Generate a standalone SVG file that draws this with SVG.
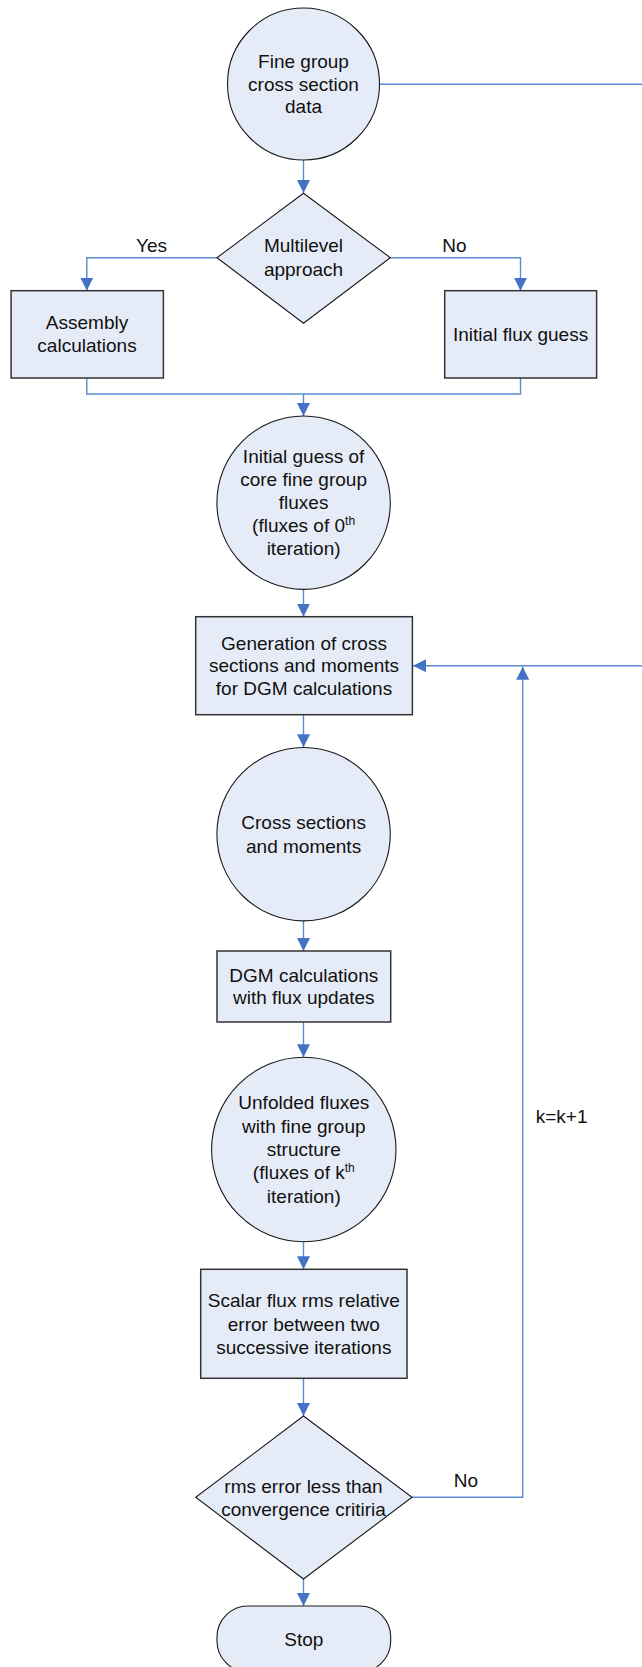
<svg xmlns="http://www.w3.org/2000/svg" width="642" height="1667" viewBox="0 0 642 1667">
<style>
.shape{fill:#E6ECF7;stroke:#1a1a1a;stroke-width:1.1}
.box{fill:#E6ECF7;stroke:#333333;stroke-width:1.5}
.conn{fill:none;stroke:#5A8AD0;stroke-width:1.4}
text{font-family:"Liberation Sans",Arial,sans-serif;font-size:19px;fill:#111;text-anchor:middle}
.sup{font-size:12px}
</style>
<defs>
<marker id="arr" markerUnits="userSpaceOnUse" markerWidth="13" markerHeight="13" viewBox="0 0 13 13" refX="13" refY="6.5" orient="auto">
<path d="M0,0 L13,6.5 L0,13 z" fill="#4472C4"/>
</marker>
</defs>
<g id="connectors">
<path class="conn" d="M303.5,160 V193" marker-end="url(#arr)"/>
<path class="conn" d="M379.5,84.3 H642"/>
<path class="conn" d="M217,257.7 H86.8 V290.7" marker-end="url(#arr)"/>
<path class="conn" d="M390.3,257.7 H520.5 V290.7" marker-end="url(#arr)"/>
<path class="conn" d="M86.8,378 V394 H520.5 V378"/>
<path class="conn" d="M303.5,394 V416" marker-end="url(#arr)"/>
<path class="conn" d="M303.5,589.3 V616.7" marker-end="url(#arr)"/>
<path class="conn" d="M642,665.7 H413" marker-end="url(#arr)"/>
<path class="conn" d="M303.5,714.7 V747.3" marker-end="url(#arr)"/>
<path class="conn" d="M303.5,921 V951" marker-end="url(#arr)"/>
<path class="conn" d="M303.5,1022 V1057.3" marker-end="url(#arr)"/>
<path class="conn" d="M303.5,1241.7 V1269.3" marker-end="url(#arr)"/>
<path class="conn" d="M303.5,1378.3 V1416" marker-end="url(#arr)"/>
<path class="conn" d="M412,1497.3 H522.7 V666.7" marker-end="url(#arr)"/>
<path class="conn" d="M303.5,1579 V1606" marker-end="url(#arr)"/>
<text x="151.5" y="251.7">Yes</text>
<text x="454.5" y="251.7">No</text>
<text x="561.6" y="1123.3">k=k+1</text>
<text x="466" y="1486.7">No</text>
</g>
<g id="fine-group">
<circle class="shape" cx="303.5" cy="84" r="76"/>
<text x="303.5" y="68.3">Fine group</text>
<text x="303.5" y="90.8">cross section</text>
<text x="303.5" y="113.3">data</text>
</g>
<g id="multilevel">
<path class="shape" d="M303.5,193.3 L390.3,257.7 L303.5,323.3 L217,257.7 Z"/>
<text x="303.5" y="252.3">Multilevel</text>
<text x="303.5" y="276">approach</text>
</g>
<g id="assembly">
<rect class="box" x="11.1" y="290.7" width="152.3" height="87.3"/>
<text x="87" y="329.3">Assembly</text>
<text x="87" y="352">calculations</text>
</g>
<g id="initial-flux">
<rect class="box" x="444.7" y="290.7" width="151.9" height="87.3"/>
<text x="520.6" y="341">Initial flux guess</text>
</g>
<g id="initial-guess">
<circle class="shape" cx="303.6" cy="502.7" r="86.7"/>
<text x="303.6" y="462.7">Initial guess of</text>
<text x="303.6" y="486">core fine group</text>
<text x="303.6" y="509">fluxes</text>
<text x="303.6" y="532.3">(fluxes of 0<tspan class="sup" dy="-7">th</tspan></text>
<text x="303.6" y="555">iteration)</text>
</g>
<g id="generation">
<rect class="box" x="195.7" y="616.7" width="216.7" height="98"/>
<text x="304" y="650">Generation of cross</text>
<text x="304" y="672.3">sections and moments</text>
<text x="304" y="695">for DGM calculations</text>
</g>
<g id="cross-sections">
<circle class="shape" cx="303.6" cy="834.2" r="86.7"/>
<text x="303.6" y="829.3">Cross sections</text>
<text x="303.6" y="852.7">and moments</text>
</g>
<g id="dgm">
<rect class="box" x="217" y="951" width="173.7" height="71"/>
<text x="303.8" y="981.7">DGM calculations</text>
<text x="303.8" y="1004.3">with flux updates</text>
</g>
<g id="unfolded">
<circle class="shape" cx="303.8" cy="1149.5" r="92.2"/>
<text x="303.8" y="1109.3">Unfolded fluxes</text>
<text x="303.8" y="1132.7">with fine group</text>
<text x="303.8" y="1156">structure</text>
<text x="303.8" y="1179.3">(fluxes of k<tspan class="sup" dy="-7">th</tspan></text>
<text x="303.8" y="1202.7">iteration)</text>
</g>
<g id="scalar">
<rect class="box" x="200.7" y="1269.3" width="206.3" height="109"/>
<text x="303.8" y="1306.7">Scalar flux rms relative</text>
<text x="303.8" y="1330.5">error between two</text>
<text x="303.8" y="1354">successive iterations</text>
</g>
<g id="convergence">
<path class="shape" d="M303.5,1416 L412,1497.3 L303.5,1579 L195.7,1497.3 Z"/>
<text x="303.5" y="1492.7">rms error less than</text>
<text x="303.5" y="1515.7">convergence critiria</text>
</g>
<g id="stop">
<rect class="shape" x="217" y="1606" width="173.7" height="66" rx="31" ry="31"/>
<text x="303.8" y="1645.7">Stop</text>
</g>
</svg>
